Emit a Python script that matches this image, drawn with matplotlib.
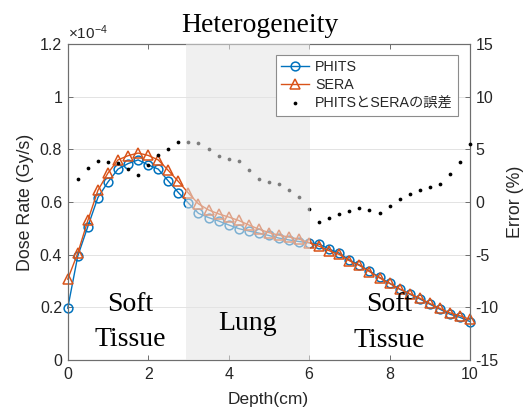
import matplotlib
matplotlib.use('Agg')
import matplotlib.pyplot as plt
from matplotlib.ticker import FixedLocator, FuncFormatter

plt.rcParams['font.family'] = ['Liberation Sans', 'Noto Sans CJK JP', 'DejaVu Sans']
plt.rcParams['mathtext.fontset'] = 'custom'
plt.rcParams['mathtext.rm'] = 'Liberation Sans'
plt.rcParams['mathtext.it'] = 'Liberation Sans'

# ---------------- data ----------------
depth_cm = [0, 0.25, 0.5, 0.75, 1.0, 1.25, 1.5, 1.75, 2.0, 2.25, 2.5, 2.75,
            3.0, 3.25, 3.5, 3.75, 4.0, 4.25, 4.5, 4.75, 5.0, 5.25, 5.5, 5.75,
            6.0, 6.25, 6.5, 6.75, 7.0, 7.25, 7.5, 7.75, 8.0, 8.25, 8.5, 8.75,
            9.0, 9.25, 9.5, 9.75, 10.0]

# dose rate in units of 1e-4 Gy/s
phits_dose = [0.197, 0.395, 0.507, 0.617, 0.676, 0.725, 0.746, 0.760, 0.741,
              0.725, 0.680, 0.636, 0.596, 0.557, 0.541, 0.528, 0.513, 0.499,
              0.490, 0.482, 0.473, 0.463, 0.456, 0.450, 0.445, 0.440, 0.421,
              0.406, 0.380, 0.361, 0.338, 0.314, 0.292, 0.269, 0.250, 0.232,
              0.212, 0.193, 0.174, 0.162, 0.146]
sera_dose = [0.307, 0.406, 0.530, 0.644, 0.710, 0.760, 0.776, 0.786, 0.777,
             0.760, 0.720, 0.678, 0.634, 0.593, 0.570, 0.555, 0.543, 0.530,
             0.513, 0.497, 0.484, 0.474, 0.467, 0.459, 0.446, 0.432, 0.415,
             0.401, 0.377, 0.359, 0.336, 0.312, 0.291, 0.270, 0.252, 0.235,
             0.215, 0.196, 0.179, 0.168, 0.154]

error_depth_cm = depth_cm[1:]
error_pct = [2.18, 3.23, 3.89, 3.80, 3.70, 3.10, 2.52, 3.51, 4.46, 5.08,
             5.67, 5.67, 5.57, 5.03, 4.37, 4.08, 3.87, 3.01, 2.16, 1.93,
             1.69, 1.11, 0.49, -0.69, -1.90, -1.55, -1.11, -0.85, -0.54, -0.79,
             -1.02, -0.41, 0.26, 0.73, 1.17, 1.45, 1.68, 2.66, 3.80, 5.48]

lung_region = [2.93, 6.02]
x_ticks = [0, 2, 4, 6, 8, 10]
left_ticks = [0, 0.2, 0.4, 0.6, 0.8, 1.0, 1.2]
right_ticks = [-15, -10, -5, 0, 5, 10, 15]

labels = ['PHITS', 'SERA', 'PHITSとSERAの誤差']
title = 'Heterogeneity'

# ---------------- figure ----------------
fig = plt.figure(figsize=(5.32, 4.15), dpi=100)
ax = fig.add_axes([0.1273, 0.1325, 0.7562, 0.7614])
ax2 = ax.twinx()

blue = '#0072BD'
orange = '#D95319'
spine_c = '#6e6e6e'
txt_c = '#262626'

l1, = ax.plot(depth_cm, phits_dose, '-o', color=blue, lw=1.0, ms=6.3,
              mfc='none', mew=1.1, clip_on=False, zorder=3)
l2, = ax.plot(depth_cm, sera_dose, '-^', color=orange, lw=1.0, ms=6.8,
              mfc='none', mew=1.1, clip_on=False, zorder=3)
l3, = ax2.plot(error_depth_cm, error_pct, 'o', color='black', ms=2.7,
               mew=0, clip_on=False, zorder=3)

ax2.axvspan(lung_region[0], lung_region[1], color=(228/255, 228/255, 228/255),
            alpha=0.55, lw=0, zorder=5)

ax.set_xlim(0, 10)
ax.set_ylim(0, 1.2)
ax2.set_ylim(-15, 15)

ax.xaxis.set_major_locator(FixedLocator(x_ticks))
ax.yaxis.set_major_locator(FixedLocator(left_ticks))
ax2.yaxis.set_major_locator(FixedLocator(right_ticks))
ax.yaxis.set_major_formatter(FuncFormatter(lambda v, p: f'{v:g}'))
ax2.yaxis.set_major_formatter(FuncFormatter(lambda v, p: f'{v:g}'))

ax.grid(axis='y', color='#e3e3e3', lw=0.7)
ax.set_axisbelow(True)

ax.tick_params(axis='x', direction='in', length=3.5, width=0.7, color=spine_c,
               labelsize=11.5, labelcolor=txt_c, top=True, pad=5)
ax.tick_params(axis='y', direction='in', length=3.5, width=0.7, color=spine_c,
               labelsize=11.5, labelcolor=txt_c, right=False, pad=4)
ax2.tick_params(axis='y', direction='in', length=3.5, width=0.7, color=spine_c,
                labelsize=11.5, labelcolor=txt_c, pad=4)
for a in (ax, ax2):
    for s in a.spines.values():
        s.set_color(spine_c)
        s.set_linewidth(0.8)

fig.text(26 / 532, 1 - 202 / 415, 'Dose Rate (Gy/s)', rotation=90,
         ha='center', va='center', fontsize=12.8, color=txt_c)
fig.text(515 / 532, 1 - 202 / 415, 'Error (%)', rotation=90,
         ha='center', va='center', fontsize=12.8, color=txt_c)
fig.text(268 / 532, 1 - 399 / 415, 'Depth(cm)', ha='center', va='center',
         fontsize=12.5, color=txt_c)

ax.text(0.0, 1.006, r'$\times$10$^{-4}$', transform=ax.transAxes,
        ha='left', va='bottom', fontsize=11, color=txt_c)

ax.text(0.478, 1.038, title, transform=ax.transAxes, ha='center',
        va='baseline', fontsize=20, family='Liberation Serif', color='black')

serif = dict(fontsize=20, family='Liberation Serif', color='black',
             ha='center', va='baseline', zorder=6)
ax2.text(1.56, -15 + (360 - 310.7) / 316 * 30, 'Soft', **serif)
ax2.text(1.56, -15 + (360 - 346.0) / 316 * 30, 'Tissue', **serif)
ax2.text(4.47, -15 + (360 - 330.0) / 316 * 30, 'Lung', **serif)
ax2.text(7.99, -15 + (360 - 311.0) / 316 * 30, 'Soft', **serif)
ax2.text(7.99, -15 + (360 - 346.7) / 316 * 30, 'Tissue', **serif)

leg = ax2.legend([l1, l2, l3], labels, loc='upper right',
                 bbox_to_anchor=(457.7 / 532, 1 - 55 / 415),
                 bbox_transform=fig.transFigure, borderaxespad=0,
                 fontsize=10.3, handlelength=2.0, handletextpad=0.4,
                 labelspacing=0.3, borderpad=0.35, fancybox=False,
                 framealpha=1, edgecolor='#8c8c8c')
leg.get_frame().set_linewidth(0.8)
leg.set_zorder(10)
for t in leg.get_texts():
    t.set_color(txt_c)

fig.savefig('out.png', dpi=100)
